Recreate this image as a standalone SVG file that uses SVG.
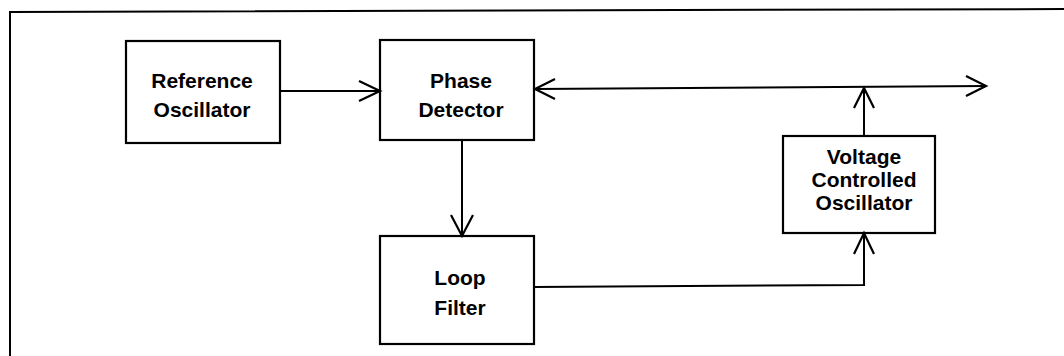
<svg xmlns="http://www.w3.org/2000/svg" width="1064" height="356" viewBox="0 0 1064 356">
<style>
.box{fill:#fff;stroke:#000;stroke-width:2.2}
.t{font-family:"Liberation Sans",Arial,sans-serif;font-weight:bold;font-size:21px;fill:#000;text-anchor:middle}
.ln{fill:none;stroke:#000;stroke-width:2}
.ah{fill:none;stroke:#000;stroke-width:2.2;stroke-linejoin:miter}
</style>
<rect width="1064" height="356" fill="#fff"/>
<path class="ln" d="M10,356 L10,12 L1064,9"/>
<g id="ref-osc">
<rect class="box" x="126" y="41" width="154" height="102"/>
<text class="t" x="202" y="88">Reference</text>
<text class="t" x="202" y="117">Oscillator</text>
</g>
<g id="phase-det">
<rect class="box" x="380" y="40" width="154" height="100"/>
<text class="t" x="461" y="88">Phase</text>
<text class="t" x="461" y="117">Detector</text>
</g>
<g id="loop-filter">
<rect class="box" x="380" y="236" width="154" height="108"/>
<text class="t" x="460" y="285">Loop</text>
<text class="t" x="460" y="315">Filter</text>
</g>
<g id="vco">
<rect class="box" x="783" y="136" width="152" height="97"/>
<text class="t" x="864" y="164">Voltage</text>
<text class="t" x="864" y="187">Controlled</text>
<text class="t" x="864" y="210">Oscillator</text>
</g>
<g id="connectors">
<line class="ln" x1="280" y1="91" x2="379" y2="91"/>
<path class="ah" d="M359,81 L380,91 L359,101"/>
<line class="ln" x1="462" y1="140" x2="462" y2="235"/>
<path class="ah" d="M451,215 L462,236 L473,215"/>
<line class="ln" x1="535" y1="89" x2="986" y2="86"/>
<path class="ah" d="M555,79 L535,89 L555,99"/>
<path class="ah" d="M966,76 L986,86 L966,96"/>
<line class="ln" x1="864" y1="136" x2="864" y2="88"/>
<path class="ah" d="M854,108 L864,88 L874,108"/>
<path class="ln" d="M534,287 L864,285 L864,234"/>
<path class="ah" d="M854,254 L864,233 L874,254"/>
</g>
</svg>
